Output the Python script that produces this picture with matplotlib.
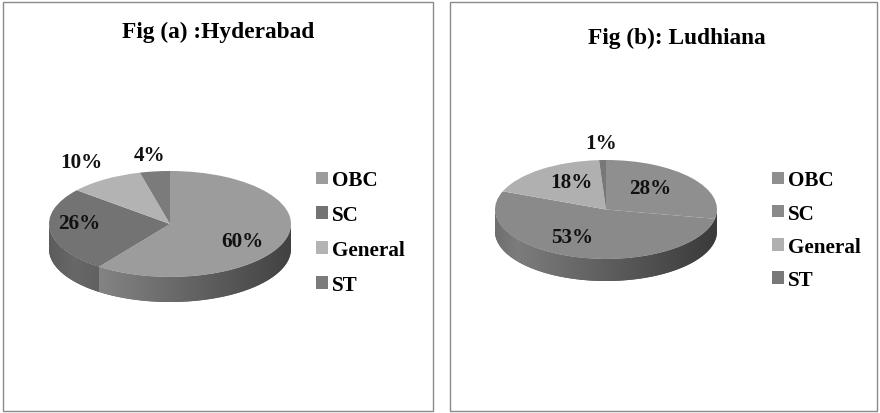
import numpy as np
import matplotlib
matplotlib.use("Agg")
import matplotlib.pyplot as plt
from matplotlib.patches import Rectangle, Polygon, Patch
from matplotlib.colors import to_rgb

# ---- data ----
categories = ["OBC", "SC", "General", "ST"]
hyderabad_pct = [60, 26, 10, 4]
ludhiana_pct = [28, 53, 18, 1]
titles = ["Fig (a) :Hyderabad", "Fig (b): Ludhiana"]

# ---- styling ----
colors_a = ["#9c9c9c", "#737373", "#b3b3b3", "#7b7b7b"]
colors_b = ["#8f8f8f", "#8a8a8a", "#b0b0b0", "#787878"]

plt.rcParams["font.family"] = ["Liberation Serif", "DejaVu Serif"]
plt.rcParams["font.weight"] = "bold"

W, H = 880, 414
fig = plt.figure(figsize=(W / 100, H / 100), dpi=100)


def fig_xy(px, py):
    return px / W, 1 - py / H


def panel_border(x0, y0, x1, y1):
    fx0, fy1 = fig_xy(x0, y0)
    fx1, fy0 = fig_xy(x1, y1)
    fig.patches.append(Rectangle((fx0, fy0), fx1 - fx0, fy1 - fy0,
                                 transform=fig.transFigure, fill=False,
                                 edgecolor="#8a8a8a", linewidth=1.0))


def shade(x):
    # lighting across the rim: bright on the left, dark on the right
    return np.interp(x, [-1.0, -0.8, 1.0], [0.80, 0.90, 0.42])


def pie3d(box, center, radii, depth, values, colors, label_layout):
    x0, y0, x1, y1 = box
    cx, cy = center
    rx, ry = radii
    ax = fig.add_axes([x0 / W, 1 - y1 / H, (x1 - x0) / W, (y1 - y0) / H])
    wedges, _ = ax.pie(values, colors=colors, startangle=90, counterclock=False,
                       wedgeprops=dict(linewidth=0, zorder=3))
    d = depth / ry
    # rim of the disc, one face per slice on the front half
    for w, c in zip(wedges, colors):
        a, b = w.theta1, w.theta2
        base = np.array(to_rgb(c))
        for k in range(-2, 3):
            lo = max(a, 180 + 360 * k)
            hi = min(b, 360 + 360 * k)
            if hi <= lo:
                continue
            t = np.radians(np.linspace(lo, hi, 80))
            top = np.column_stack([np.cos(t), np.sin(t)])
            bot = np.column_stack([np.cos(t[::-1]), np.sin(t[::-1]) - d])
            poly = Polygon(np.vstack([top, bot]), closed=True,
                           facecolor=base * 0.6, edgecolor="none", zorder=2)
            ax.add_patch(poly)
            xs = np.linspace(-1, 1, 256)
            img = np.clip(base[None, None, :] * shade(xs)[None, :, None], 0, 1)
            im = ax.imshow(img, extent=(-1, 1, -1 - d, 0), aspect="auto",
                           interpolation="bilinear", zorder=2.5)
            im.set_clip_path(poly)
    # percentage labels from the slice mid-angles
    for w, v, (r, dx, dy) in zip(wedges, values, label_layout):
        mid = np.radians((w.theta1 + w.theta2) / 2)
        ax.text(r * np.cos(mid) + dx, r * np.sin(mid) + dy, f"{v}%",
                ha="center", va="center", fontsize=15.2, fontweight="bold",
                color="#111111", zorder=5)
    ax.set_aspect("auto")
    ax.set_xlim((x0 - cx) / rx, (x1 - cx) / rx)
    ax.set_ylim((cy - y1) / ry, (cy - y0) / ry)
    ax.set_axis_off()
    return wedges


def legend(colors, x, y, spacing):
    handles = [Patch(facecolor=c, edgecolor="none") for c in colors]
    fig.legend(handles=handles, labels=categories, loc="upper left",
               bbox_to_anchor=fig_xy(x, y), frameon=False,
               prop=dict(size=15.2, weight="bold"),
               handlelength=0.55, handleheight=0.55, handletextpad=0.2,
               labelspacing=spacing, borderpad=0, borderaxespad=0)


# ---- panel (a): Hyderabad ----
panel_border(2.5, 3, 433, 412)
fig.text(*fig_xy(218, 32), titles[0], ha="center", va="center",
         fontsize=16.8, fontweight="bold")
pie3d((3, 3, 432, 411), (170, 225), (121, 53), 25, hyderabad_pct, colors_a,
      [(0.63, 0.0, -0.125), (0.756, 0.0, 0.114), (1.36, 0.0, 0.02), (1.32, 0.0, 0.0)])
legend(colors_a, 316, 171.5, 0.70)

# ---- panel (b): Ludhiana ----
panel_border(450, 2.5, 877, 412)
fig.text(*fig_xy(677, 38), titles[1], ha="center", va="center",
         fontsize=16.8, fontweight="bold")
pie3d((451, 3, 876, 411), (606, 210.5), (111, 49.5), 22, ludhiana_pct, colors_b,
      [(0.52, 0.0, 0.10), (0.6, -0.14, 0.02), (0.6, 0.04, 0.07), (1.34, 0.0, 0.0)])
legend(colors_b, 772, 171.5, 0.62)

fig.savefig("out.png", dpi=100)
